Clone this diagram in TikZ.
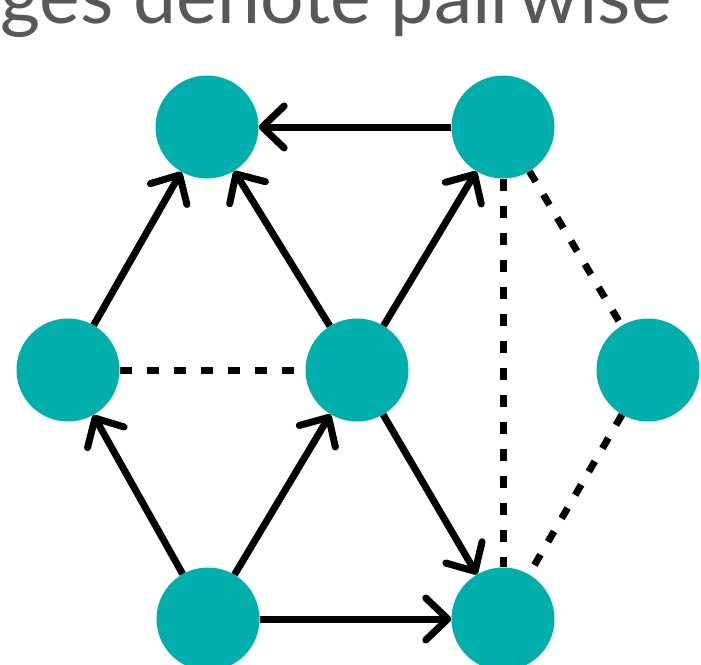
\documentclass[tikz,border=0pt]{standalone}
\usepackage{fontspec}
\usepackage{xcolor}
\usepackage{tikz}
\usetikzlibrary{arrows.meta}
\newfontfamily\latofont{Lato}
\definecolor{tealnode}{RGB}{0,174,172}
\definecolor{greytext}{RGB}{88,88,88}
\tikzset{
  vtx/.style  ={circle, fill=tealnode, inner sep=0pt, minimum size=103pt},
  arr/.style  ={-{Straight Barb[length=22pt, width=42pt, round]}, draw=black, line width=7pt},
  dsh/.style  ={draw=black, line width=7pt, dash pattern=on 12pt off 15pt},
  ttl/.style  ={font=\latofont\fontsize{77}{80}\selectfont, text=greytext, inner sep=0pt},
}

\begin{document}
\begin{tikzpicture}[x=1pt,y=-1pt]
\useasboundingbox (0,0) rectangle (701,664);
\clip (0,0) rectangle (701,664);
% heading (cut off)
\node[ttl,anchor=base east] (title) at (672,23) {ges denote pairwise};
% vertices
\node[vtx] (tl) at (207,127) {};
\node[vtx] (tr) at (503,127) {};
\node[vtx] (ml) at (68,370) {};
\node[vtx] (mc) at (357,370) {};
\node[vtx] (mr) at (648,370) {};
\node[vtx] (bl) at (208,619) {};
\node[vtx] (br) at (503,619) {};
% directed edges
\draw[arr] (tr) -- (tl);
\draw[arr] (ml) -- (tl);
\draw[arr] (mc) -- (tl);
\draw[arr] (mc) -- (tr);
\draw[arr] (bl) -- (ml);
\draw[arr] (bl) -- (mc);
\draw[arr] (mc) -- (br);
\draw[arr] (bl) -- (br);
% pairwise edges
\draw[dsh] (ml) -- (mc);
\draw[dsh] (tr) -- (br);
\draw[dsh] (tr) -- (mr);
\draw[dsh] (mr) -- (br);
\end{tikzpicture}
\end{document}
